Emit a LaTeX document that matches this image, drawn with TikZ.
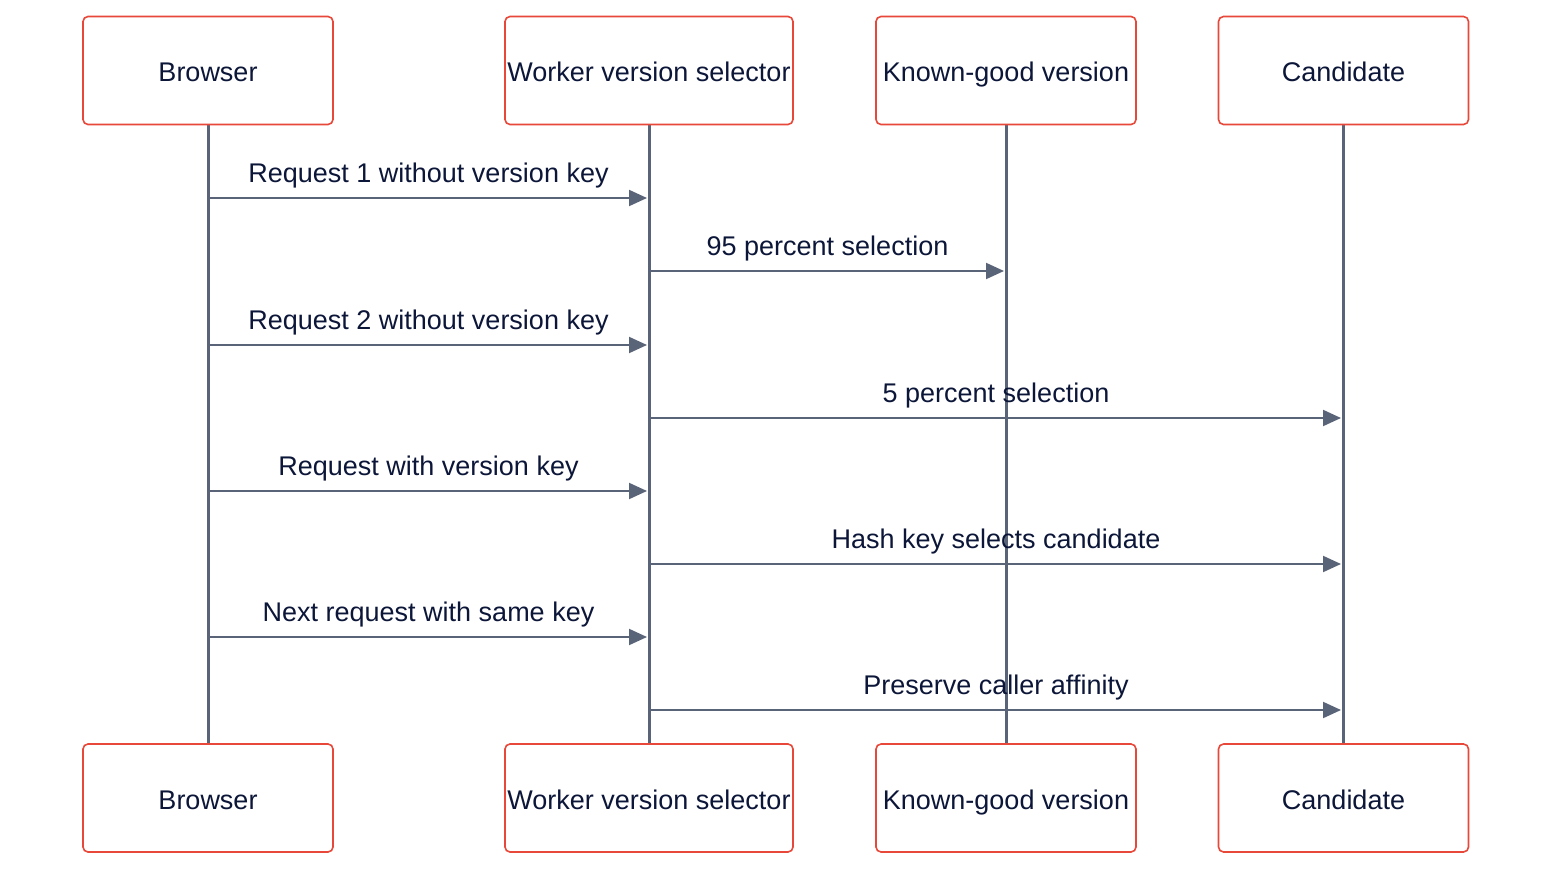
\documentclass[tikz,border=0pt]{standalone}
\usepackage{fontspec}
\setmainfont{Liberation Sans}
\usetikzlibrary{arrows.meta}
\definecolor{txt}{RGB}{12,22,56}
\definecolor{boxred}{RGB}{232,72,58}
\definecolor{ln}{RGB}{90,100,120}
\begin{document}
\begin{tikzpicture}[x=1pt,y=-1pt,
  actor/.style={draw=boxred,line width=1.6pt,rounded corners=5pt,fill=white,text=txt,
    minimum height=108pt,inner sep=0pt,text height=22.4pt,text depth=0pt,font=\fontsize{27}{32}\selectfont},
  life/.style={draw=ln,line width=3pt},
  msg/.style={draw=ln,line width=2pt,-{Triangle[length=18pt,width=16pt]},shorten >=2pt},
  lbl/.style={text=txt,font=\fontsize{27}{32}\selectfont,inner sep=0pt}]
\useasboundingbox (0,0) rectangle (1568,880);
% lifelines
\coordinate (b1) at (208,125); \coordinate (b2) at (208,744);
\coordinate (w1) at (649,125); \coordinate (w2) at (649,744);
\coordinate (k1) at (1006,125); \coordinate (k2) at (1006,744);
\coordinate (c1) at (1343,125); \coordinate (c2) at (1343,744);
\draw[life] (b1) -- (b2);
\draw[life] (w1) -- (w2);
\draw[life] (k1) -- (k2);
\draw[life] (c1) -- (c2);
% actors
\node[actor,minimum width=250pt] (bt) at (208,70.5) {Browser};
\node[actor,minimum width=288pt] (wt) at (649,70.5) {Worker version selector};
\node[actor,minimum width=260pt] (kt) at (1006,70.5) {Known-good version};
\node[actor,minimum width=250pt] (ct) at (1343.5,70.5) {Candidate};
\node[actor,minimum width=250pt] (bb) at (208,798) {Browser};
\node[actor,minimum width=288pt] (wb) at (649,798) {Worker version selector};
\node[actor,minimum width=260pt] (kb) at (1006,798) {Known-good version};
\node[actor,minimum width=250pt] (cb) at (1343.5,798) {Candidate};
% message coordinates
\foreach \y [count=\i] in {198,271,345,418,491,564,637,710}{
  \coordinate (B\i) at (208,\y);
  \coordinate (W\i) at (649,\y);
  \coordinate (K\i) at (1006,\y);
  \coordinate (C\i) at (1343,\y);
}
\draw[msg] (B1) -- node[lbl,above=9pt] {Request 1 without version key} (W1);
\draw[msg] (W2) -- node[lbl,above=9pt] {95 percent selection} (K2);
\draw[msg] (B3) -- node[lbl,above=9pt] {Request 2 without version key} (W3);
\draw[msg] (W4) -- node[lbl,above=9pt] {5 percent selection} (C4);
\draw[msg] (B5) -- node[lbl,above=9pt] {Request with version key} (W5);
\draw[msg] (W6) -- node[lbl,above=9pt] {Hash key selects candidate} (C6);
\draw[msg] (B7) -- node[lbl,above=9pt] {Next request with same key} (W7);
\draw[msg] (W8) -- node[lbl,above=9pt] {Preserve caller affinity} (C8);
\end{tikzpicture}
\end{document}
